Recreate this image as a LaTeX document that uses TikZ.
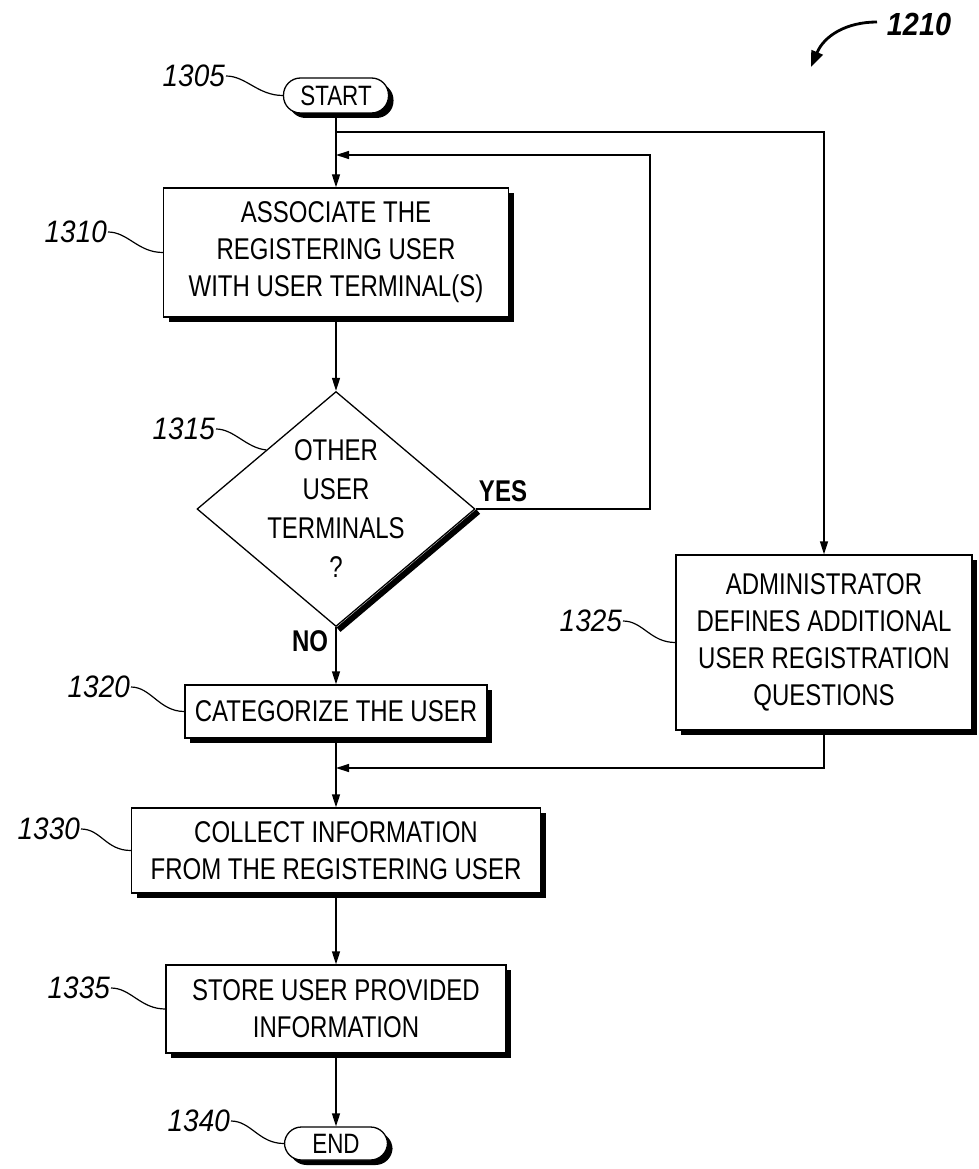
\documentclass[tikz,border=0pt]{standalone}
\usepackage{fontspec}
\setmainfont{Liberation Sans}
\newfontfamily\boxfont{Liberation Sans}[FakeStretch=0.8]
\newfontfamily\labfont{Liberation Sans}[FakeStretch=0.9]
\usetikzlibrary{arrows.meta,shapes.geometric,shadows}
\begin{document}
\begin{tikzpicture}[x=1pt,y=-1pt,
  box/.style={draw, fill=white, line width=1.3pt, align=center, inner sep=0pt,
    font=\boxfont\fontsize{30}{37}\selectfont,
    drop shadow={shadow xshift=5pt, shadow yshift=-5pt, fill=black, opacity=1}},
  pill/.style={box, rounded corners=17pt, font=\boxfont\fontsize{28}{30}\selectfont},
  dshape/.style={diamond, draw, fill=white, line width=1.3pt, inner sep=0pt},
  dtxt/.style={align=center, font=\boxfont\fontsize{30}{39}\selectfont},
  yn/.style={font=\boxfont\bfseries\fontsize{30}{30}\selectfont, inner sep=0pt},
  lab/.style={font=\labfont\fontsize{31}{31}\selectfont\itshape, inner sep=1pt, anchor=east},
  leader/.style={line width=1.2pt},
  arr/.style={line width=1.3pt, -{Triangle[length=13pt,width=8pt]}}
]
\useasboundingbox (0,0) rectangle (979,1169);

% nodes
\node[pill, minimum width=105pt, minimum height=35pt] (start) at (336,95.5) {START};
\node[box, minimum width=345pt, minimum height=129pt] (b1310) at (336,252.5)
  {ASSOCIATE THE\\REGISTERING USER\\WITH USER TERMINAL(S)};
\node[dshape, minimum width=278pt, minimum height=235pt] (d) at (336,509) {};
\node[dtxt] (dtext) at (336,509) {OTHER\\USER\\TERMINALS\\?};
\node[box, minimum width=302pt, minimum height=53pt] (b1320) at (336,711.5) {CATEGORIZE THE USER};
\node[box, minimum width=296pt, minimum height=175pt] (b1325) at (824,642.5)
  {ADMINISTRATOR\\DEFINES ADDITIONAL\\USER REGISTRATION\\QUESTIONS};
\node[box, minimum width=409pt, minimum height=85pt] (b1330) at (336,850.5)
  {COLLECT INFORMATION\\FROM THE REGISTERING USER};
\node[box, minimum width=340pt, minimum height=88pt] (b1335) at (336,1009)
  {STORE USER PROVIDED\\INFORMATION};
\node[pill, minimum width=103pt, minimum height=33pt] (end) at (336,1143.5) {END};

% thick lower-right edge of the decision
\draw[line width=6pt] ([shift={(2.5,2.5)}]d.east) -- ([shift={(2.5,2.5)}]d.south);

\node[yn] (yes) at (503,491) {YES};
\node[yn] (no) at (310,641) {NO};

% junctions
\coordinate (j1) at (336,132);
\coordinate (j2) at (336,155);
\coordinate (c1) at (650,155);
\coordinate (j3) at (336,768);

% connectors
\draw[arr] (start) -- (b1310);
\draw[arr] (j1) -| (b1325.north);
\draw[arr] (b1310) -- (d.north);
\draw[arr] (d.east) -| (c1) -- (j2);
\draw[arr] (d.south) -- (b1320.north);
\draw[arr] (b1320) -- (b1330);
\draw[arr] (b1325.south) |- (j3);
\draw[arr] (b1330) -- (b1335);
\draw[arr] (b1335) -- (end);

% reference labels with leaders
\node[lab] (l1305) at (226,76) {1305};
\draw[leader] (l1305.east) .. controls +(20,0) and +(-25,0) .. (start.west);
\node[lab] (l1310) at (108,232) {1310};
\draw[leader] (l1310.east) .. controls +(20,0) and +(-25,0) .. (b1310.west);
\node[lab] (l1315) at (216,429) {1315};
\draw[leader] (l1315.east) .. controls +(18,0) and +(-20,-2) .. (d.north west);
\node[lab] (l1320) at (131,687) {1320};
\draw[leader] (l1320.east) .. controls +(20,0) and +(-25,0) .. (b1320.west);
\node[lab] (l1325) at (623,621) {1325};
\draw[leader] (l1325.east) .. controls +(20,0) and +(-25,0) .. (b1325.west);
\node[lab] (l1330) at (81,829) {1330};
\draw[leader] (l1330.east) .. controls +(20,0) and +(-25,0) .. (b1330.west);
\node[lab] (l1335) at (111,988) {1335};
\draw[leader] (l1335.east) .. controls +(20,0) and +(-25,0) .. (b1335.west);
\node[lab] (l1340) at (231,1121) {1340};
\draw[leader] (l1340.east) .. controls +(20,0) and +(-25,0) .. (end.west);

% figure reference
\node[font=\labfont\fontsize{32}{32}\selectfont\bfseries\itshape, inner sep=1pt] (l1210) at (919,24) {1210};
\coordinate (s1210) at (877,22);
\coordinate (a1210) at (811,67);
\draw[line width=2.8pt, -{Triangle[length=16pt,width=12pt]}] (s1210) .. controls (846,22) and (824,36) .. (a1210);
\end{tikzpicture}
\end{document}
